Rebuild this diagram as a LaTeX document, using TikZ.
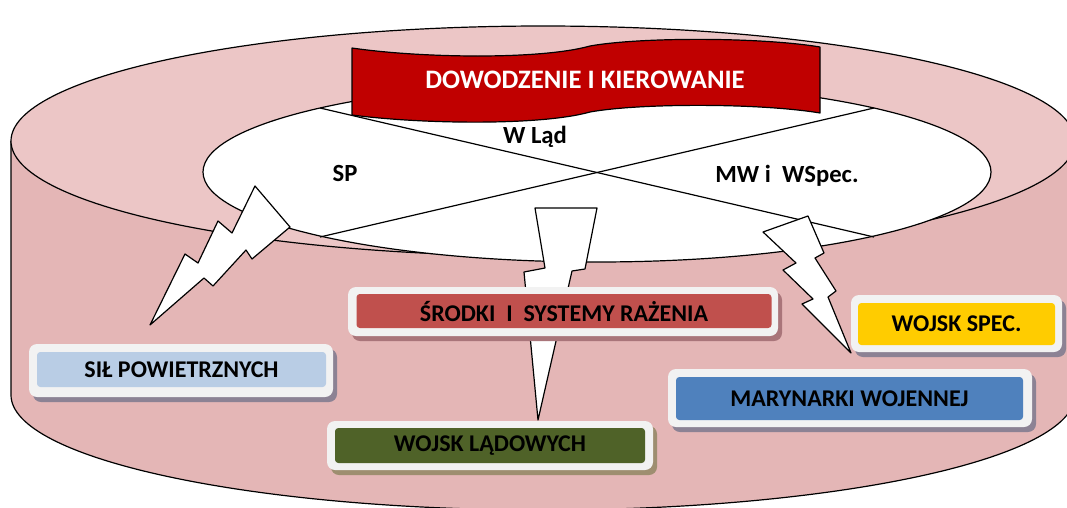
\documentclass[tikz,border=0pt]{standalone}
\usepackage{fontspec}
\setmainfont{Carlito}
\definecolor{toppink}{HTML}{ECC6C6}
\definecolor{sidepink}{HTML}{E4B6B6}
\definecolor{bannerred}{HTML}{C00000}
\definecolor{framecol}{HTML}{F2F2F2}
\definecolor{shadowcol}{HTML}{8C8294}
\definecolor{shadowred}{HTML}{A9757A}
\definecolor{shadowolive}{HTML}{9E8E70}
\definecolor{silblue}{HTML}{B9CDE5}
\definecolor{srodred}{HTML}{C0504D}
\definecolor{ladgreen}{HTML}{4F6228}
\definecolor{marblue}{HTML}{4F81BD}
\definecolor{specyellow}{HTML}{FFCC00}
\begin{document}
\begin{tikzpicture}[x=0.75pt,y=-0.75pt,line join=round,
  outline/.style={draw=black,line width=0.9pt},
  bolt/.style={fill=white,draw=black,line width=0.9pt},
  frame/.style={fill=framecol,rounded corners=6pt},
  shade/.style={fill=#1,rounded corners=6pt},
  inner/.style={rounded corners=2.5pt,inner sep=0pt,font=\bfseries\fontsize{18}{20}\selectfont,text=black},
  ellabel/.style={font=\bfseries\fontsize{18.5}{21}\selectfont,text=black}]
\useasboundingbox (0,0) rectangle (1067,507);
\clip (0,0) rectangle (1067,507);
% cylinder side
\fill[sidepink] (11,141) rectangle (1075,395);
\fill[sidepink] (543,395) ellipse [x radius=532, y radius=115];
\draw[outline] (11,141) -- (11,395) arc[start angle=180, end angle=0, x radius=532, y radius=115] -- (1075,141);
% top face
\filldraw[fill=toppink,outline] (543,141) ellipse [x radius=532, y radius=115];
% inner ellipse
\filldraw[fill=white,outline] (597,172) ellipse [x radius=394, y radius=90];
\coordinate (xa) at (320,108);
\coordinate (xb) at (874,237);
\coordinate (xc) at (874,108);
\coordinate (xd) at (320,237);
\draw[outline] (xa) -- (xb);
\draw[outline] (xc) -- (xd);
% banner
\filldraw[fill=bannerred,outline] (352,48) .. controls (420,58) and (540,60) .. (590,46)
  .. controls (640,37) and (760,37) .. (820,47) -- (820,113)
  .. controls (760,103) and (640,103) .. (590,112)
  .. controls (540,126) and (420,124) .. (352,115) -- cycle;
\node[font=\bfseries\fontsize{20}{24}\selectfont,text=white] (dk) at (585,80) {DOWODZENIE I KIEROWANIE};
% ellipse labels
\node[ellabel] (wlad) at (535,137) {W Ląd};
\node[ellabel] (sp) at (345,173) {SP};
\node[ellabel] (mw) at (787,176) {MW i\ \ WSpec.};
% bolts
\filldraw[bolt] (150,325) -- (185,254) -- (198,263) -- (218,221) -- (232,233) -- (255,186)
  -- (290,227) -- (252,259) -- (246,250) -- (213,286) -- (204,278) -- cycle;
\filldraw[bolt] (535,208) -- (597,208) -- (585,269) -- (572,271) -- (538,420)
  -- (524,272) -- (545,268) -- cycle;
\filldraw[bolt] (763,232) -- (808,216) -- (824,253) -- (815,258) -- (836,291) -- (828,297)
  -- (851,353) -- (802,304) -- (813,299) -- (783,270) -- (796,263) -- cycle;
% boxes
\fill[shade=shadowcol] (33,349) rectangle (337,402);
\fill[frame] (29,344) rectangle (333,397);
\node[inner,fill=silblue,minimum width=216.75pt,minimum height=26.25pt] (sil) at (181.5,369.5) {SIŁ POWIETRZNYCH};
\fill[shade=shadowred] (352,292) rectangle (782,341);
\fill[frame] (348,287) rectangle (778,336);
\node[inner,fill=srodred,minimum width=311.25pt,minimum height=25.5pt] (srod) at (564,311) {ŚRODKI\ \ I\ \ SYSTEMY RAŻENIA};
\fill[shade=shadowolive] (331,426) rectangle (657,475);
\fill[frame] (327,421) rectangle (653,470);
\node[inner,fill=ladgreen,minimum width=232.5pt,minimum height=26.25pt] (lad) at (490,445.5) {WOJSK LĄDOWYCH};
\fill[shade=shadowcol] (672,374) rectangle (1036,432);
\fill[frame] (668,369) rectangle (1032,427);
\node[inner,fill=marblue,minimum width=260.25pt,minimum height=32.25pt] (mar) at (849.5,398.5) {MARYNARKI WOJENNEJ};
\fill[shade=shadowcol] (855,300) rectangle (1066,357);
\fill[frame] (851,295) rectangle (1062,352);
\node[inner,fill=specyellow,minimum width=147.75pt,minimum height=31.5pt] (spec) at (956.5,324) {WOJSK SPEC.};
\end{tikzpicture}
\end{document}
